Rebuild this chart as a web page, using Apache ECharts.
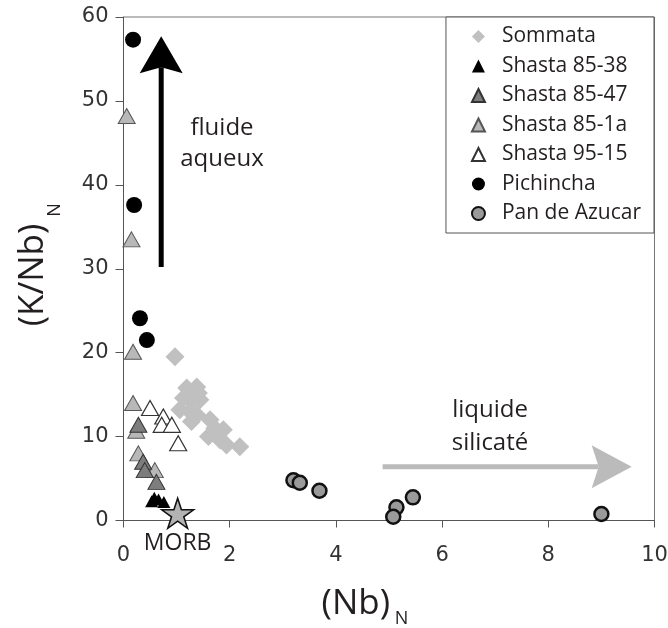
<!DOCTYPE html>
<html><head><meta charset="utf-8">
<script src="https://cdn.jsdelivr.net/npm/echarts@6/dist/echarts.min.js"></script>
<style>html,body{margin:0;padding:0;background:#fff}#c{width:668px;height:628px}</style>
</head><body><div id="c"></div>
<script>
// ---- data (x = (Nb)N, y = (K/Nb)N) ----
const sommata = [[0.97,19.5],[1.19,15.8],[1.38,15.9],[1.41,15.2],[1.13,14.6],[1.28,14.2],[1.44,14.4],[1.06,13.2],[1.25,13.0],[1.38,12.6],[1.28,11.8],[1.63,12.0],[1.72,11.0],[1.88,10.8],[1.60,10.0],[1.82,9.6],[1.94,9.0],[2.19,8.8]];
const shasta8538 = [[0.53,2.3],[0.58,2.7],[0.66,2.5],[0.76,2.2]];
const shasta8547 = [[0.28,11.4],[0.37,7.0],[0.40,6.0],[0.62,4.6]];
const shasta851a = [[0.06,48.2],[0.15,33.5],[0.18,20.1],[0.18,14.0],[0.24,10.7],[0.28,8.0],[0.59,6.0]];
const shasta9515 = [[0.50,13.4],[0.75,12.4],[0.72,11.4],[0.91,11.4],[1.03,9.2]];
const pichincha = [[0.18,57.3],[0.20,37.6],[0.31,24.1],[0.44,21.5]];
const panDeAzucar = [[3.20,4.8],[3.32,4.5],[3.69,3.55],[5.14,1.57],[5.08,0.45],[5.45,2.76],[9.0,0.77]];
const morb = [[1.02,0.86]];
const arrowFluide = [[0.71,30.2,0.71,57.7]];
const arrowLiquide = [[4.88,6.4,9.57,6.4]];
const seriesNames = ['Sommata','Shasta 85-38','Shasta 85-47','Shasta 85-1a','Shasta 95-15','Pichincha','Pan de Azucar'];
const xRange = [0, 10, 2];
const yRange = [0, 60, 10];

const FONT = 'Open Sans';
const starPath = 'path://M50,0 L61.2,34.5 L97.6,34.5 L68.2,55.9 L79.4,90.5 L50,69.1 L20.6,90.5 L31.8,55.9 L2.4,34.5 L38.8,34.5 Z';

function arrowRenderer(color, headLen, headWidth, notch, shaftW) {
  return function (params, api) {
    const p1 = api.coord([api.value(0), api.value(1)]);
    const p2 = api.coord([api.value(2), api.value(3)]);
    const dx = p2[0] - p1[0], dy = p2[1] - p1[1];
    const len = Math.sqrt(dx * dx + dy * dy);
    const ux = dx / len, uy = dy / len;
    const nx = -uy, ny = ux;
    const bx = p2[0] - ux * headLen, by = p2[1] - uy * headLen;
    const kx = p2[0] - ux * (headLen - notch), ky = p2[1] - uy * (headLen - notch);
    return {
      type: 'group',
      children: [
        { type: 'line', shape: { x1: p1[0], y1: p1[1], x2: kx, y2: ky }, style: { stroke: color, lineWidth: shaftW } },
        { type: 'polygon', shape: { points: [[p2[0], p2[1]], [bx + nx * headWidth / 2, by + ny * headWidth / 2], [kx, ky], [bx - nx * headWidth / 2, by - ny * headWidth / 2]] }, style: { fill: color } }
      ]
    };
  };
}

const chart = echarts.init(document.getElementById('c'));
chart.setOption({
  animation: false,
  backgroundColor: '#fff',
  grid: { left: 123.5, top: 17, right: 13.5, bottom: 107.5, show: true, borderColor: '#777', borderWidth: 1, containLabel: false, outerBoundsMode: 'none' },
  xAxis: {
    type: 'value', min: xRange[0], max: xRange[1], interval: xRange[2],
    splitLine: { show: false },
    axisLine: { show: true, onZero: false, lineStyle: { color: '#555', width: 1 } },
    axisTick: { show: true, inside: false, length: 7, lineStyle: { color: '#555' } },
    axisLabel: { margin: 25, fontFamily: 'DejaVu Sans', fontSize: 21, color: '#333' }
  },
  yAxis: {
    type: 'value', min: yRange[0], max: yRange[1], interval: yRange[2],
    splitLine: { show: false },
    axisLine: { show: true, onZero: false, lineStyle: { color: '#555', width: 1 } },
    axisTick: { show: true, inside: false, length: 8, lineStyle: { color: '#555' } },
    axisLabel: { margin: 15, fontFamily: 'DejaVu Sans', fontSize: 21, color: '#333' }
  },
  legend: {
    data: seriesNames,
    orient: 'vertical',
    right: 14, top: 17,
    padding: [9, 13, 9, 25],
    itemWidth: 13, itemHeight: 13, itemGap: 8.5,
    symbolKeepAspect: true,
    backgroundColor: '#fff',
    borderColor: '#555', borderWidth: 1,
    selectedMode: false,
    textStyle: { fontFamily: FONT, fontSize: 21, lineHeight: 21, color: '#231f20', padding: [0, 0, 0, 12] }
  },
  graphic: [
    { type: 'text', x: 355.8, y: 604, style: { text: '(Nb)', font: '35px "Open Sans"', fill: '#231f20', align: 'center', verticalAlign: 'middle' } },
    { type: 'text', x: 401.5, y: 618.5, style: { text: 'N', font: '18px "Open Sans"', fill: '#231f20', align: 'center', verticalAlign: 'middle' } },
    { type: 'text', x: 33.5, y: 275, rotation: Math.PI / 2, style: { text: '(K/Nb)', font: '35px "Open Sans"', fill: '#231f20', align: 'center', verticalAlign: 'middle' } },
    { type: 'text', x: 54.5, y: 210, rotation: Math.PI / 2, style: { text: 'N', font: '18px "Open Sans"', fill: '#231f20', align: 'center', verticalAlign: 'middle' } },
    { type: 'text', x: 222, y: 143.5, style: { text: 'fluide\naqueux', font: '24px "Open Sans"', lineHeight: 31, fill: '#231f20', align: 'center', verticalAlign: 'middle' } },
    { type: 'text', x: 490, y: 427, style: { text: 'liquide\nsilicaté', font: '24px "Open Sans"', lineHeight: 33, fill: '#231f20', align: 'center', verticalAlign: 'middle' } }
  ],
  series: [
    { type: 'custom', name: 'arrow1', silent: true, z: 1, data: arrowFluide, encode: { x: [0, 2], y: [1, 3] }, renderItem: arrowRenderer('#000', 37, 43, 6, 5) },
    { type: 'custom', name: 'arrow2', silent: true, z: 1, data: arrowLiquide, encode: { x: [0, 2], y: [1, 3] }, renderItem: arrowRenderer('#bbbbbb', 40, 43, 7, 5) },
    { type: 'scatter', name: 'Sommata', data: sommata, symbol: 'diamond', symbolSize: 19, symbolKeepAspect: true, z: 2, itemStyle: { color: '#c0c0c0', opacity: 1 } },
    { type: 'scatter', name: 'Shasta 85-38', data: shasta8538, symbol: 'triangle', symbolSize: [13, 12], symbolKeepAspect: true, z: 3, itemStyle: { color: '#000', opacity: 1 } },
    { type: 'scatter', name: 'Shasta 85-47', data: shasta8547, symbol: 'triangle', symbolSize: [17, 15], symbolKeepAspect: true, z: 5, itemStyle: { color: '#7d7d7d', borderColor: '#333', borderWidth: 1, opacity: 1 } },
    { type: 'scatter', name: 'Shasta 85-1a', data: shasta851a, symbol: 'triangle', symbolSize: [17, 15], symbolKeepAspect: true, z: 4, itemStyle: { color: '#b8b8b8', borderColor: '#555', borderWidth: 1, opacity: 1 } },
    { type: 'scatter', name: 'Shasta 95-15', data: shasta9515, symbol: 'triangle', symbolSize: [17, 15], symbolKeepAspect: true, z: 4, itemStyle: { color: '#fff', borderColor: '#333', borderWidth: 1.2, opacity: 1 } },
    { type: 'scatter', name: 'Pichincha', data: pichincha, symbol: 'circle', symbolSize: 16, z: 4, itemStyle: { color: '#000', opacity: 1 } },
    { type: 'scatter', name: 'Pan de Azucar', data: panDeAzucar, symbol: 'circle', symbolSize: 14, z: 4, itemStyle: { color: '#9a9a9a', borderColor: '#111', borderWidth: 2.5, opacity: 1 } },
    { type: 'scatter', name: 'MORB', data: morb, symbol: starPath, symbolSize: [32, 30], z: 6, itemStyle: { color: '#b3b3b3', borderColor: '#111', borderWidth: 1.5, opacity: 1 },
      label: { show: true, position: 'bottom', distance: 3, formatter: 'MORB', fontFamily: FONT, fontSize: 23, color: '#231f20' } }
  ]
});
</script>
</body></html>
